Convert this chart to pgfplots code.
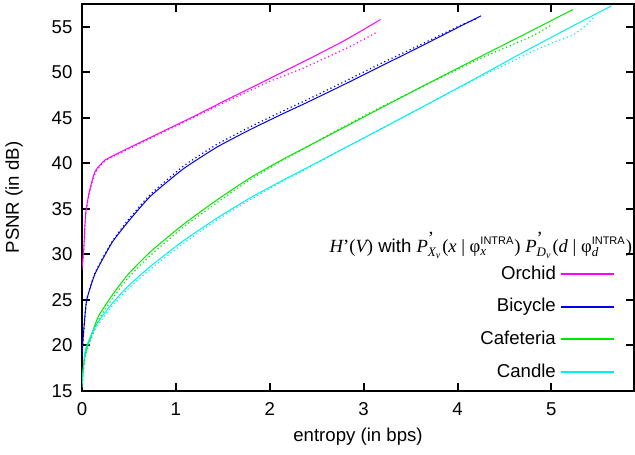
\documentclass[border=0pt]{standalone}
\usepackage{pgfplots}
\pgfplotsset{compat=1.18}
\usepackage{fontspec}
\setmainfont{Liberation Sans}
\newfontfamily\tms{Liberation Serif}
\newcommand{\ti}[1]{{\tms\itshape #1}}
\newcommand{\tu}[1]{{\tms #1}}
\definecolor{cmag}{RGB}{255,0,255}
\definecolor{cblu}{RGB}{0,0,240}
\definecolor{cgrn}{RGB}{0,230,0}
\definecolor{ccya}{RGB}{0,240,240}
\begin{document}
\begin{tikzpicture}
\fontsize{9.3}{11}\selectfont
\begin{axis}[
  at={(0,0)}, anchor=south west,
  scale only axis, width=276pt, height=193.5pt,
  xmin=0, xmax=5.88, ymin=15, ymax=57.5,
  xtick={0,1,2,3,4,5}, ytick={15,20,...,55},
  tick align=inside, tick pos=both, major tick length=4pt,
  axis line style={line width=1pt},
  every tick/.style={line width=1pt, black},
  /pgf/number format/assume math mode=true,
  tick label style={font=\fontsize{9.3}{11}\selectfont},
  xticklabel style={yshift=-2.5pt},
  yticklabel style={xshift=-1.5pt},
  label style={font=\fontsize{9.3}{11}\selectfont},
  xlabel={entropy (in bps)}, ylabel={PSNR (in dB)},
  xlabel style={at={(axis description cs:0.5,-0.119)}, anchor=center},
  ylabel style={at={(axis description cs:-0.123,0.5)}, anchor=center},
  legend cell align=right, legend plot pos=right,
  legend style={draw=none, fill=none, at={(rel axis cs:0.966,0.335)}, anchor=north east,
     font=\fontsize{9.3}{11}\selectfont, row sep=4.2pt, inner sep=0pt},
  legend image code/.code={\draw[#1, line width=1pt] (0pt,0pt) -- (26.5pt,0pt);},
]
% Orchid
\addplot[cmag, line width=0.5pt, smooth, tension=0.3, forget plot] coordinates {(0,28.5)(0.01,29.5)(0.02,30.8)(0.03,33.0)(0.04,34.6)(0.06,35.9)(0.08,37.0)(0.1,37.8)(0.125,38.7)(0.15,39.3)(0.2,39.9)(0.25,40.4)(0.4,41.2)(0.6,42.2)(0.94,43.9)(1.2,45.2)(1.545,47.0)(1.86,48.6)(2.2,50.35)(2.5,51.9)(2.78,53.4)(3.0,54.7)(3.18,55.8)};
% Bicycle
\addplot[cblu, line width=0.5pt, smooth, tension=0.3, forget plot] coordinates {(0,18.8)(0.01,20.5)(0.025,22.5)(0.05,25.0)(0.14,27.9)(0.32,31.3)(0.5,33.7)(0.73,36.4)(1.08,39.4)(1.44,41.8)(1.79,43.7)(2.15,45.5)(2.4,46.7)(2.8,48.7)(3.17,50.6)(3.6,52.8)(4.0,54.9)(4.25,56.2)};
% Cafeteria
\addplot[cgrn, line width=0.5pt, smooth, tension=0.3, forget plot] coordinates {(0,15.8)(0.01,17.3)(0.03,18.8)(0.07,20.3)(0.175,23.2)(0.32,25.5)(0.49,27.8)(0.73,30.3)(1.08,33.3)(1.44,36.0)(1.79,38.4)(2.15,40.5)(2.43,42.0)(2.8,44.0)(3.17,46.0)(3.7,48.85)(4.24,51.7)(4.7,54.1)(5.23,56.9)};
% Candle
\addplot[ccya, line width=0.5pt, smooth, tension=0.3, forget plot] coordinates {(0,15.5)(0.01,16.8)(0.035,19.5)(0.14,22.1)(0.32,24.6)(0.49,26.5)(0.73,28.7)(1.08,31.5)(1.44,34.0)(1.79,36.2)(2.15,38.2)(2.43,39.7)(2.8,41.7)(3.17,43.7)(3.7,46.6)(4.24,49.6)(4.7,52.2)(5.23,55.1)(5.64,57.3)};
% dotted companions
\addplot[cmag, line width=0.6pt, dash pattern=on 0.6pt off 1.4pt, smooth, tension=0.3, forget plot] coordinates {(0,28.3)(0.01,29.3)(0.02,30.5)(0.03,32.7)(0.04,34.3)(0.06,35.7)(0.08,36.8)(0.1,37.6)(0.125,38.5)(0.15,39.1)(0.2,39.8)(0.25,40.3)(0.4,41.1)(0.6,42.1)(1.0,44.1)(1.5,46.6)(2.0,49.0)(2.32,50.3)(2.6,51.6)(2.89,53.0)(3.14,54.4)};
\addplot[cblu, line width=0.6pt, dash pattern=on 0.6pt off 1.4pt, smooth, tension=0.3, forget plot] coordinates {(0.01,20.5)(0.05,25.0)(0.14,28.0)(0.32,31.4)(0.5,33.9)(0.73,36.6)(1.08,39.7)(1.44,42.1)(1.79,44.0)(2.15,45.8)(2.4,47.0)(2.8,49.0)(3.17,50.9)(3.6,53.0)(4.0,55.0)(4.2,55.9)};
\addplot[cgrn, line width=0.6pt, dash pattern=on 0.6pt off 1.4pt, smooth, tension=0.3, forget plot] coordinates {(0,15.7)(0.03,18.6)(0.07,20.0)(0.175,22.8)(0.32,25.1)(0.49,27.4)(0.73,29.9)(1.08,33.0)(1.44,35.7)(1.79,38.2)(2.15,40.4)(2.43,42.0)(2.8,44.1)(3.17,46.1)(3.7,48.8)(4.24,51.5)(4.6,53.1)(4.8,54.0)(5.0,55.2)};
\addplot[ccya, line width=0.6pt, dash pattern=on 0.6pt off 1.4pt, smooth, tension=0.3, forget plot] coordinates {(0,15.4)(0.035,19.2)(0.14,21.8)(0.32,24.3)(0.49,26.2)(0.73,28.4)(1.08,31.2)(1.44,33.8)(1.79,36.0)(2.15,38.1)(2.43,39.6)(2.8,41.7)(3.17,43.7)(3.7,46.6)(4.24,49.5)(4.5,50.8)(4.8,52.3)(5.0,53.2)(5.23,54.1)(5.35,55.0)(5.46,56.1)};
\addlegendimage{draw=cmag}
\addlegendentry{Orchid}
\addlegendimage{draw=cblu}
\addlegendentry{Bicycle}
\addlegendimage{draw=cgrn}
\addlegendentry{Cafeteria}
\addlegendimage{draw=ccya}
\addlegendentry{Candle}
\node[anchor=east, inner sep=0pt, font=\fontsize{9.3}{11}\selectfont] at (rel axis cs:0.997,0.377) {\ti{H}\tu{’(}\ti{V}\tu{)} with $\hbox{\ti{P}}^{\hbox{\tu{’}}}_{\hbox{\fontsize{6.5}{7}\selectfont\ti{X}$_{\hbox{\fontsize{5}{6}\selectfont\ti{v}}}$}}$\tu{(}\ti{x}\tu{ | φ}$^{\hbox{\fontsize{5.5}{6}\selectfont INTRA}}_{\hbox{\fontsize{6.5}{7}\selectfont\ti{x}}}$\tu{) }$\hbox{\ti{P}}^{\hbox{\tu{’}}}_{\hbox{\fontsize{6.5}{7}\selectfont\ti{D}$_{\hbox{\fontsize{5}{6}\selectfont\ti{v}}}$}}$\tu{(}\ti{d}\tu{ | φ}$^{\hbox{\fontsize{5.5}{6}\selectfont INTRA}}_{\hbox{\fontsize{6.5}{7}\selectfont\ti{d}}}$\tu{)}};
\end{axis}
\pgfresetboundingbox
\useasboundingbox (-41pt,-31.5pt) rectangle (276.5pt,195.5pt);
\end{tikzpicture}
\end{document}
